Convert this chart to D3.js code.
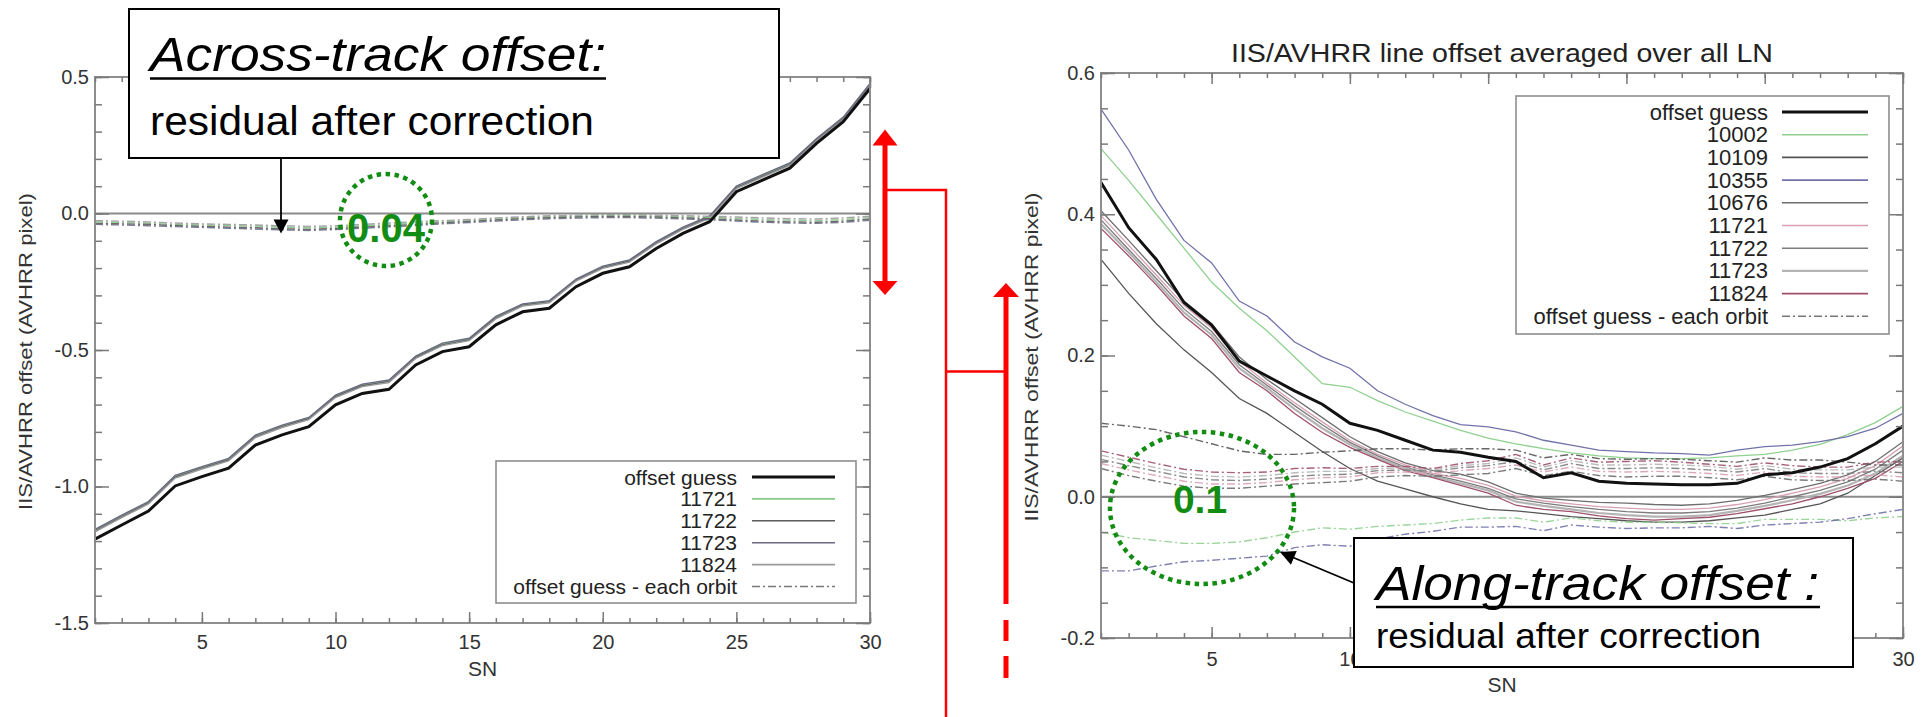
<!DOCTYPE html>
<html><head><meta charset="utf-8">
<script src="https://cdn.jsdelivr.net/npm/d3@7"></script>
<style>
body{margin:0;background:#fff}
svg{display:block}
text{font-family:"Liberation Sans",Arial,Helvetica,sans-serif}
</style>
</head><body>
<svg id="c" width="1926" height="717"></svg>
<script>
// ---------------- DATA ----------------
const SN = [1,2,3,4,5,6,7,8,9,10,11,12,13,14,15,16,17,18,19,20,21,22,23,24,25,26,27,28,29,30];
const xTicks = [5,10,15,20,25,30];
// labels of the right chart that are hidden under the annotation box in the reference
const rightHiddenXLabels = [15,20,25];

// Left chart: across-track offset
const leftYTicks = [-1.5,-1.0,-0.5,0.0,0.5];
const leftNames = ["11721","11722","11723","11824"];
const leftGuess = [-1.193,-1.141,-1.090,-0.998,-0.964,-0.933,-0.848,-0.811,-0.781,-0.701,-0.659,-0.644,-0.555,-0.506,-0.488,-0.408,-0.360,-0.347,-0.268,-0.219,-0.195,-0.128,-0.073,-0.030,0.080,0.123,0.166,0.257,0.336,0.458];
const left11721 = [-1.160,-1.108,-1.058,-0.962,-0.930,-0.900,-0.815,-0.778,-0.750,-0.668,-0.628,-0.613,-0.525,-0.478,-0.460,-0.380,-0.334,-0.322,-0.243,-0.196,-0.173,-0.106,-0.053,-0.012,0.097,0.140,0.182,0.272,0.350,0.472];
const left11722 = [-1.163,-1.111,-1.061,-0.966,-0.933,-0.903,-0.818,-0.781,-0.752,-0.671,-0.631,-0.616,-0.528,-0.481,-0.463,-0.383,-0.336,-0.324,-0.245,-0.198,-0.175,-0.108,-0.055,-0.014,0.094,0.137,0.179,0.269,0.347,0.468];
const left11723 = [-1.157,-1.105,-1.055,-0.959,-0.927,-0.897,-0.812,-0.775,-0.747,-0.665,-0.625,-0.610,-0.522,-0.475,-0.457,-0.377,-0.331,-0.319,-0.240,-0.193,-0.170,-0.103,-0.050,-0.009,0.100,0.143,0.185,0.275,0.353,0.476];
const left11824 = [-1.166,-1.114,-1.064,-0.969,-0.936,-0.906,-0.821,-0.784,-0.755,-0.674,-0.634,-0.619,-0.531,-0.484,-0.466,-0.386,-0.339,-0.327,-0.248,-0.201,-0.178,-0.111,-0.058,-0.017,0.091,0.134,0.176,0.266,0.344,0.465];
const leftRes11721 = [-0.030,-0.033,-0.036,-0.040,-0.042,-0.044,-0.046,-0.050,-0.052,-0.050,-0.045,-0.040,-0.035,-0.030,-0.026,-0.020,-0.016,-0.012,-0.010,-0.008,-0.008,-0.010,-0.012,-0.014,-0.018,-0.022,-0.025,-0.026,-0.022,-0.015];
const leftRes11722 = [-0.036,-0.038,-0.040,-0.044,-0.047,-0.050,-0.052,-0.056,-0.058,-0.055,-0.050,-0.045,-0.040,-0.034,-0.029,-0.024,-0.019,-0.015,-0.013,-0.011,-0.011,-0.013,-0.016,-0.019,-0.024,-0.028,-0.031,-0.032,-0.028,-0.020];
const leftRes11723 = [-0.040,-0.042,-0.045,-0.048,-0.051,-0.054,-0.057,-0.060,-0.062,-0.059,-0.054,-0.049,-0.044,-0.038,-0.033,-0.028,-0.023,-0.019,-0.017,-0.015,-0.015,-0.017,-0.020,-0.023,-0.028,-0.032,-0.035,-0.036,-0.032,-0.025];
const leftRes11824 = [-0.026,-0.028,-0.031,-0.035,-0.038,-0.040,-0.042,-0.045,-0.047,-0.045,-0.040,-0.035,-0.030,-0.026,-0.022,-0.016,-0.012,-0.008,-0.006,-0.004,-0.004,-0.006,-0.008,-0.010,-0.013,-0.016,-0.019,-0.020,-0.016,-0.010];

// Right chart: along-track offset
const rightTitle = "IIS/AVHRR line offset averaged over all LN";
const rightYTicks = [-0.2,0.0,0.2,0.4,0.6];
const rightNames = ["10002","10109","10355","10676","11721","11722","11723","11824"];
const rightGuess = [0.445,0.381,0.336,0.275,0.243,0.192,0.171,0.150,0.131,0.104,0.094,0.080,0.066,0.063,0.056,0.050,0.027,0.034,0.022,0.019,0.018,0.017,0.017,0.019,0.031,0.034,0.042,0.054,0.075,0.100];
const right10002 = [0.493,0.448,0.400,0.352,0.304,0.267,0.235,0.198,0.160,0.155,0.136,0.120,0.107,0.094,0.083,0.075,0.068,0.062,0.058,0.055,0.054,0.054,0.055,0.058,0.060,0.066,0.074,0.088,0.105,0.128];
const right10109 = [0.336,0.288,0.245,0.208,0.176,0.139,0.118,0.091,0.064,0.040,0.022,0.011,0.000,-0.010,-0.018,-0.020,-0.024,-0.028,-0.031,-0.034,-0.036,-0.036,-0.034,-0.030,-0.026,-0.018,-0.010,0.005,0.030,0.055];
const right10355 = [0.549,0.491,0.421,0.363,0.331,0.277,0.256,0.219,0.198,0.182,0.150,0.131,0.115,0.102,0.099,0.092,0.080,0.073,0.066,0.064,0.062,0.061,0.059,0.066,0.071,0.073,0.078,0.085,0.097,0.118];
const right10676 = [0.405,0.363,0.320,0.277,0.245,0.198,0.166,0.139,0.112,0.085,0.064,0.048,0.037,0.032,0.021,0.005,-0.002,-0.005,-0.008,-0.009,-0.011,-0.012,-0.010,-0.005,0.002,0.010,0.019,0.031,0.050,0.078];
const right11721 = [0.398,0.356,0.314,0.271,0.239,0.192,0.161,0.133,0.106,0.080,0.060,0.045,0.033,0.026,0.016,0.001,-0.006,-0.010,-0.014,-0.016,-0.018,-0.018,-0.016,-0.011,-0.004,0.005,0.014,0.026,0.044,0.072];
const right11722 = [0.392,0.350,0.309,0.266,0.234,0.187,0.158,0.129,0.102,0.077,0.058,0.042,0.031,0.022,0.012,-0.003,-0.009,-0.014,-0.018,-0.021,-0.023,-0.023,-0.021,-0.016,-0.009,0.000,0.009,0.021,0.039,0.066];
const right11723 = [0.386,0.346,0.304,0.261,0.229,0.182,0.154,0.124,0.097,0.074,0.055,0.040,0.029,0.019,0.009,-0.007,-0.013,-0.018,-0.023,-0.026,-0.028,-0.028,-0.026,-0.020,-0.013,-0.005,0.004,0.016,0.033,0.058];
const right11824 = [0.380,0.341,0.300,0.256,0.224,0.176,0.150,0.118,0.091,0.070,0.053,0.037,0.027,0.016,0.005,-0.012,-0.018,-0.021,-0.027,-0.031,-0.033,-0.031,-0.029,-0.024,-0.017,-0.010,0.000,0.012,0.026,0.050];
const rightRes10002 = [-0.050,-0.058,-0.062,-0.066,-0.066,-0.064,-0.058,-0.050,-0.044,-0.046,-0.042,-0.040,-0.038,-0.033,-0.030,-0.030,-0.036,-0.030,-0.034,-0.036,-0.036,-0.037,-0.038,-0.038,-0.032,-0.032,-0.032,-0.034,-0.030,-0.028];
const rightRes10109 = [0.104,0.100,0.095,0.085,0.075,0.065,0.060,0.060,0.063,0.065,0.068,0.068,0.066,0.068,0.068,0.066,0.055,0.060,0.054,0.053,0.054,0.053,0.051,0.049,0.055,0.052,0.052,0.049,0.045,0.045];
const rightRes10355 = [-0.105,-0.105,-0.098,-0.092,-0.090,-0.087,-0.084,-0.072,-0.068,-0.070,-0.060,-0.053,-0.049,-0.043,-0.043,-0.042,-0.048,-0.040,-0.043,-0.045,-0.044,-0.044,-0.042,-0.045,-0.040,-0.038,-0.036,-0.031,-0.024,-0.018];
const rightRes10676 = [0.040,0.030,0.022,0.015,0.012,0.012,0.015,0.018,0.020,0.022,0.028,0.030,0.029,0.031,0.033,0.040,0.030,0.036,0.030,0.028,0.029,0.029,0.027,0.024,0.029,0.024,0.023,0.023,0.025,0.022];
const rightRes11721 = [0.047,0.038,0.030,0.022,0.018,0.018,0.020,0.024,0.027,0.028,0.034,0.035,0.033,0.037,0.040,0.045,0.035,0.042,0.036,0.035,0.036,0.035,0.033,0.030,0.035,0.029,0.028,0.028,0.031,0.028];
const rightRes11722 = [0.053,0.044,0.036,0.028,0.024,0.023,0.025,0.029,0.031,0.032,0.037,0.038,0.036,0.041,0.044,0.050,0.038,0.047,0.040,0.040,0.041,0.040,0.038,0.035,0.040,0.034,0.033,0.033,0.036,0.034];
const rightRes11723 = [0.059,0.050,0.041,0.033,0.029,0.028,0.030,0.034,0.036,0.036,0.040,0.041,0.038,0.044,0.047,0.055,0.042,0.051,0.045,0.045,0.046,0.045,0.043,0.039,0.044,0.039,0.038,0.038,0.042,0.042];
const rightRes11824 = [0.065,0.056,0.047,0.039,0.035,0.034,0.035,0.040,0.041,0.040,0.043,0.043,0.040,0.047,0.051,0.060,0.045,0.055,0.049,0.050,0.051,0.049,0.046,0.043,0.048,0.044,0.042,0.042,0.049,0.050];

// ---------------- STYLES ----------------
const leftColors = ["#88c888","#5c5c5c","#6a6a84","#9a9a9a"];
const leftWidths = [1.4,1.4,1.4,1.4];
const rightColors = ["#90d090","#555555","#7272aa","#6e6e6e","#d8a0b4","#7c7c7c","#b4b4b4","#a0506a"];
const rightWidths = [1.3,1.3,1.3,1.3,1.3,1.3,2.2,1.3];
const DASHDOT = "8,3,2,3";
const GREEN = "#138c13";
const RED = "#ff0000";

const svg = d3.select("#c");

function drawPlot(cfg){
  const g = svg.append("g");
  const x = d3.scaleLinear().domain([1,30]).range([cfg.left,cfg.right]);
  const y = d3.scaleLinear().domain(cfg.yDomain).range([cfg.bottom,cfg.top]);
  const line = d3.line().x((d,i)=>x(SN[i])).y(d=>y(d));

  g.append("line").attr("x1",cfg.left).attr("x2",cfg.right).attr("y1",y(0)).attr("y2",y(0))
    .attr("stroke","#8c8c8c").attr("stroke-width",1.8);

  cfg.orbits.forEach((s,i)=>g.append("path").datum(s).attr("d",line).attr("fill","none")
    .attr("stroke",cfg.colors[i]).attr("stroke-width",cfg.widths[i]));
  cfg.resid.forEach((s,i)=>g.append("path").datum(s).attr("d",line).attr("fill","none")
    .attr("stroke",cfg.colors[i]).attr("stroke-width",1.4).attr("stroke-dasharray",DASHDOT)
    .attr("opacity",0.9));
  g.append("path").datum(cfg.guess).attr("d",line).attr("fill","none")
    .attr("stroke","#111").attr("stroke-width",3);

  // frame
  g.append("rect").attr("x",cfg.left).attr("y",cfg.top).attr("width",cfg.right-cfg.left)
    .attr("height",cfg.bottom-cfg.top).attr("fill","none").attr("stroke","#8e8e8e").attr("stroke-width",2);

  const minorX = d3.range(1,31);
  const minorY = d3.range(Math.round(cfg.yDomain[0]/cfg.yMinor), Math.round(cfg.yDomain[1]/cfg.yMinor)+1).map(k=>+(k*cfg.yMinor).toFixed(3));
  const styleAxis = sel => { sel.select(".domain").remove();
    sel.selectAll(".tick line").attr("stroke","#7a7a7a").attr("stroke-width",1.5);
    sel.selectAll("text").attr("fill","#333").attr("font-size",20).attr("font-family","'Liberation Sans',Arial,sans-serif"); };

  g.append("g").attr("transform",`translate(0,${cfg.bottom})`)
    .call(d3.axisBottom(x).tickValues(minorX).tickSize(-5).tickFormat("")).call(styleAxis);
  g.append("g").attr("transform",`translate(0,${cfg.top})`)
    .call(d3.axisTop(x).tickValues(minorX).tickSize(-5).tickFormat("")).call(styleAxis);
  g.append("g").attr("transform",`translate(0,${cfg.bottom})`)
    .call(d3.axisBottom(x).tickValues(xTicks).tickSize(-11).tickPadding(cfg.xPad)
      .tickFormat(d=>cfg.hiddenX.includes(d)?"":String(d))).call(styleAxis);
  g.append("g").attr("transform",`translate(0,${cfg.top})`)
    .call(d3.axisTop(x).tickValues(xTicks).tickSize(-11).tickFormat("")).call(styleAxis);

  g.append("g").attr("transform",`translate(${cfg.left},0)`)
    .call(d3.axisLeft(y).tickValues(minorY).tickSize(-7).tickFormat("")).call(styleAxis);
  g.append("g").attr("transform",`translate(${cfg.right},0)`)
    .call(d3.axisRight(y).tickValues(minorY).tickSize(-7).tickFormat("")).call(styleAxis);
  g.append("g").attr("transform",`translate(${cfg.left},0)`)
    .call(d3.axisLeft(y).tickValues(cfg.yTicks).tickSize(-14).tickPadding(6).tickFormat(d=>d.toFixed(1))).call(styleAxis);
  g.append("g").attr("transform",`translate(${cfg.right},0)`)
    .call(d3.axisRight(y).tickValues(cfg.yTicks).tickSize(-14).tickFormat("")).call(styleAxis);

  // axis titles
  g.append("text").attr("x",(cfg.left+cfg.right)/2).attr("y",cfg.snY).attr("text-anchor","middle")
    .attr("dominant-baseline","central").attr("font-size",21).attr("fill","#333").text("SN");
  g.append("text").attr("transform",`translate(${cfg.ytX},${cfg.ytY}) rotate(-90)`)
    .attr("text-anchor","middle").attr("dominant-baseline","central").attr("font-size",18)
    .attr("fill","#333").attr("textLength",cfg.ytLen).attr("lengthAdjust","spacingAndGlyphs")
    .text("IIS/AVHRR offset (AVHRR pixel)");

  // legend
  const L = cfg.legend;
  g.append("rect").attr("x",L.x).attr("y",L.y).attr("width",L.w).attr("height",L.h)
    .attr("fill","#fff").attr("stroke","#8e8e8e").attr("stroke-width",1.6);
  const entries = [{n:"offset guess",c:"#111",w:3,d:null}]
    .concat(cfg.names.map((n,i)=>({n:n,c:cfg.colors[i],w:Math.max(1.6,cfg.widths[i]),d:null})))
    .concat([{n:"offset guess - each orbit",c:"#777",w:1.5,d:DASHDOT}]);
  entries.forEach((e,i)=>{
    const yy = L.row0 + i*L.step;
    g.append("text").attr("x",L.tx).attr("y",yy).attr("text-anchor","end").attr("dominant-baseline","central")
      .attr("font-size",L.fs).attr("fill","#222").text(e.n);
    const ln = g.append("line").attr("x1",L.l1).attr("x2",L.l2).attr("y1",yy).attr("y2",yy)
      .attr("stroke",e.c).attr("stroke-width",e.w);
    if(e.d) ln.attr("stroke-dasharray",e.d);
  });
  return {x,y,g};
}

const P1 = drawPlot({
  left:95,right:870,top:77,bottom:623,yDomain:[-1.5,0.5],yTicks:leftYTicks,yMinor:0.1,xPad:12,hiddenX:[],
  guess:leftGuess,orbits:[left11721,left11722,left11723,left11824],
  resid:[leftRes11721,leftRes11722,leftRes11723,leftRes11824],
  names:leftNames,colors:leftColors,widths:leftWidths,
  snY:668,ytX:26,ytY:351.5,ytLen:317,
  legend:{x:496,y:461,w:360,h:142,row0:477,step:21.9,tx:737,l1:752,l2:835,fs:21}
});

const P2 = drawPlot({
  left:1101,right:1903,top:73,bottom:638,yDomain:[-0.2,0.6],yTicks:rightYTicks,yMinor:0.05,xPad:14,hiddenX:rightHiddenXLabels,
  guess:rightGuess,orbits:[right10002,right10109,right10355,right10676,right11721,right11722,right11723,right11824],
  resid:[rightRes10002,rightRes10109,rightRes10355,rightRes10676,rightRes11721,rightRes11722,rightRes11723,rightRes11824],
  names:rightNames,colors:rightColors,widths:rightWidths,
  snY:684,ytX:1032,ytY:357,ytLen:329,
  legend:{x:1516,y:96,w:373,h:238,row0:112,step:22.7,tx:1768,l1:1782,l2:1868,fs:22}
});

svg.append("text").attr("x",1502).attr("y",61.5).attr("text-anchor","middle").attr("font-size",26)
  .attr("fill","#222").attr("textLength",542).attr("lengthAdjust","spacingAndGlyphs").text(rightTitle);

// ---------------- ANNOTATIONS ----------------
const A = svg.append("g");
function arrowHead(tip, from, len, half, color){
  const dx = tip[0]-from[0], dy = tip[1]-from[1], L = Math.hypot(dx,dy);
  const ux = dx/L, uy = dy/L, bx = tip[0]-ux*len, by = tip[1]-uy*len;
  A.append("path").attr("d",`M${tip[0]},${tip[1]}L${bx-uy*half},${by+ux*half}L${bx+uy*half},${by-ux*half}Z`)
    .attr("fill",color);
}
// left text box
A.append("rect").attr("x",129).attr("y",9).attr("width",650).attr("height",149)
  .attr("fill","#fff").attr("stroke","#000").attr("stroke-width",2);
A.append("text").attr("x",150).attr("y",70.5).attr("font-size",48).attr("font-style","italic")
  .attr("textLength",456).attr("lengthAdjust","spacingAndGlyphs").attr("fill","#000").text("Across-track offset:");
A.append("line").attr("x1",150).attr("x2",606).attr("y1",78.5).attr("y2",78.5).attr("stroke","#000").attr("stroke-width",2.5);
A.append("text").attr("x",150).attr("y",135).attr("font-size",41)
  .attr("textLength",444).attr("lengthAdjust","spacingAndGlyphs").attr("fill","#000").text("residual after correction");
A.append("line").attr("x1",281).attr("x2",281).attr("y1",158).attr("y2",222).attr("stroke","#000").attr("stroke-width",1.8);
arrowHead([281,233.5],[281,158],14,7.5,"#000");

// right text box
A.append("rect").attr("x",1354).attr("y",538).attr("width",499).attr("height",129)
  .attr("fill","#fff").attr("stroke","#000").attr("stroke-width",2);
A.append("text").attr("x",1376).attr("y",600).attr("font-size",48).attr("font-style","italic")
  .attr("textLength",443).attr("lengthAdjust","spacingAndGlyphs").attr("fill","#000").text("Along-track offset :");
A.append("line").attr("x1",1376).attr("x2",1820).attr("y1",607).attr("y2",607).attr("stroke","#000").attr("stroke-width",2.5);
A.append("text").attr("x",1376).attr("y",648).attr("font-size",35)
  .attr("textLength",385).attr("lengthAdjust","spacingAndGlyphs").attr("fill","#000").text("residual after correction");
A.append("line").attr("x1",1354).attr("y1",583).attr("x2",1292).attr("y2",557).attr("stroke","#000").attr("stroke-width",1.8);
arrowHead([1280,552],[1354,583],15,7.5,"#000");

// green dotted circles
A.append("ellipse").attr("cx",386).attr("cy",220).attr("rx",46).attr("ry",46)
  .attr("fill","none").attr("stroke",GREEN).attr("stroke-width",4.5).attr("stroke-dasharray","4.5,4.5");
A.append("text").attr("x",386).attr("y",241.5).attr("text-anchor","middle").attr("font-size",40)
  .attr("font-weight","bold").attr("fill",GREEN).text("0.04");
A.append("ellipse").attr("cx",1202).attr("cy",508).attr("rx",92).attr("ry",76)
  .attr("fill","none").attr("stroke",GREEN).attr("stroke-width",4.5).attr("stroke-dasharray","4.5,4.5");
A.append("text").attr("x",1200).attr("y",513).attr("text-anchor","middle").attr("font-size",39)
  .attr("font-weight","bold").attr("fill",GREEN).text("0.1");

// red arrows / connectors
A.append("line").attr("x1",885).attr("x2",885).attr("y1",144).attr("y2",282).attr("stroke",RED).attr("stroke-width",5);
arrowHead([885,129.5],[885,200],16,12.5,RED);
arrowHead([885,295],[885,200],14,12.5,RED);
A.append("path").attr("d","M885,190H946V717M946,371.5H1006").attr("fill","none").attr("stroke",RED).attr("stroke-width",2.5);
A.append("line").attr("x1",1006).attr("x2",1006).attr("y1",296).attr("y2",604).attr("stroke",RED).attr("stroke-width",5);
A.append("line").attr("x1",1006).attr("x2",1006).attr("y1",620).attr("y2",641).attr("stroke",RED).attr("stroke-width",5);
A.append("line").attr("x1",1006).attr("x2",1006).attr("y1",656).attr("y2",678).attr("stroke",RED).attr("stroke-width",5);
arrowHead([1006,283],[1006,400],14,13,RED);
</script>
</body></html>
